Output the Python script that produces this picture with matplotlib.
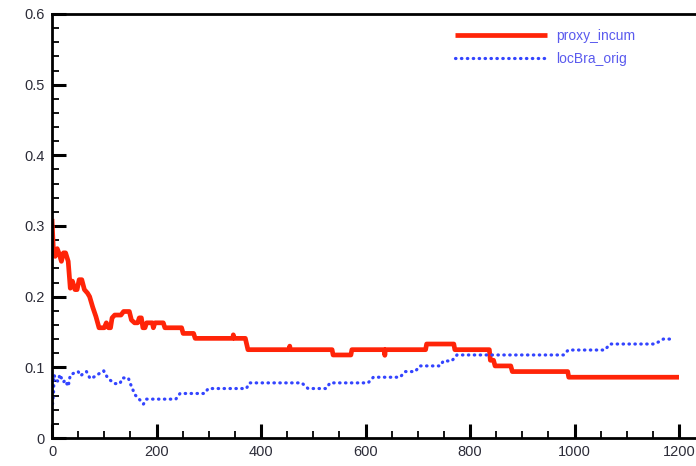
import matplotlib
matplotlib.use("Agg")
import matplotlib.pyplot as plt
from matplotlib.ticker import MultipleLocator, FuncFormatter

plt.rcParams["font.family"] = ["Liberation Sans", "DejaVu Sans"]

# incumbent proxy, change points (iteration, value)
proxy_x = [0, 3, 6, 10, 14, 18, 22, 26, 31, 35, 39, 44, 48, 52, 57, 62, 68, 72, 78, 84,
           90, 100, 104, 108, 112, 115, 120, 132, 137, 148, 152, 158, 164, 167, 171, 174,
           178, 181, 192, 194, 197, 213, 216, 248, 251, 271, 274, 346, 347, 349, 370, 375,
           454, 455, 456, 536, 538, 572, 574, 636, 637, 638, 715, 717, 769, 771, 837, 839,
           845, 848, 878, 881, 987, 989, 1200]
proxy_y = [0.31, 0.26, 0.257, 0.268, 0.26, 0.25, 0.262, 0.262, 0.25, 0.212, 0.222, 0.21,
           0.21, 0.224, 0.224, 0.21, 0.205, 0.2, 0.185, 0.172, 0.156, 0.156, 0.163, 0.156,
           0.156, 0.17, 0.174, 0.174, 0.179, 0.179, 0.167, 0.163, 0.163, 0.17, 0.17, 0.156,
           0.156, 0.163, 0.163, 0.156, 0.163, 0.163, 0.156, 0.156, 0.148, 0.148, 0.141,
           0.141, 0.146, 0.141, 0.141, 0.125, 0.125, 0.13, 0.125, 0.125, 0.1175, 0.1175,
           0.125, 0.125, 0.117, 0.125, 0.125, 0.133, 0.133, 0.125, 0.125, 0.110, 0.110,
           0.102, 0.102, 0.094, 0.094, 0.086, 0.086]

# original local branching
locbra_x = [0, 2, 3, 4, 8, 12, 15, 18.5, 22, 25, 31, 35, 41, 50, 55, 60, 66, 73, 82, 91,
            99, 105, 111, 120, 130, 135, 146, 152, 159, 168, 175, 181, 237, 245, 292, 299,
            372, 378, 478, 490, 525, 532, 605, 615, 666, 676, 695, 704, 743, 749, 765, 775,
            979, 988, 1058, 1068, 1154, 1170, 1190]
locbra_y = [0.04, 0.055, 0.065, 0.089, 0.082, 0.08, 0.09, 0.084, 0.079, 0.082, 0.073,
            0.089, 0.0915, 0.094, 0.088, 0.0915, 0.094, 0.084, 0.087, 0.0915, 0.095, 0.087,
            0.082, 0.077, 0.077, 0.085, 0.085, 0.073, 0.061, 0.054, 0.048, 0.055, 0.055,
            0.063, 0.063, 0.070, 0.070, 0.078, 0.078, 0.070, 0.070, 0.078, 0.078, 0.086,
            0.086, 0.094, 0.094, 0.102, 0.102, 0.109, 0.109, 0.1175, 0.1175, 0.1245,
            0.1245, 0.133, 0.133, 0.14, 0.14]

RED = "#ff2408"
BLUE = "#3344ff"
TEXT = "#2c2c38"

fig = plt.figure(figsize=(6.96, 4.66), dpi=100)
ax = fig.add_axes([52 / 696, 28 / 466, 644 / 696, 424 / 466])

ax.plot(proxy_x, proxy_y, color=RED, lw=3.4, solid_joinstyle="round",
        solid_capstyle="butt", label="proxy_incum")
ax.plot(locbra_x, locbra_y, color=BLUE, lw=2.3, linestyle=(0, (0.15, 1.7)),
        dash_capstyle="round", label="locBra_orig")

ax.set_xlim(0, 1200 * 644 / 627)
ax.set_ylim(0, 0.6)
ax.xaxis.set_major_locator(MultipleLocator(200))
ax.xaxis.set_minor_locator(MultipleLocator(50))
ax.yaxis.set_major_locator(MultipleLocator(0.1))
ax.yaxis.set_minor_locator(MultipleLocator(0.02))
ax.yaxis.set_major_formatter(FuncFormatter(lambda v, _: f"{v:g}"))

ax.tick_params(which="major", direction="in", length=10, width=2.2, colors="black",
               labelcolor=TEXT, labelsize=10.5, pad=5)
ax.tick_params(which="minor", direction="in", length=5, width=1.3, colors="black")
ax.tick_params(top=False, right=False, which="both")

for side in ("left", "bottom", "top"):
    ax.spines[side].set_linewidth(2.0)
ax.spines["right"].set_visible(False)

ax.legend(loc="upper left", bbox_to_anchor=(0.626, 0.964), frameon=False,
          handlelength=6.6, handletextpad=0.7, labelspacing=0.65, fontsize=10,
          labelcolor="#5a5aee", borderpad=0, borderaxespad=0)

fig.savefig("out.png", dpi=100)
